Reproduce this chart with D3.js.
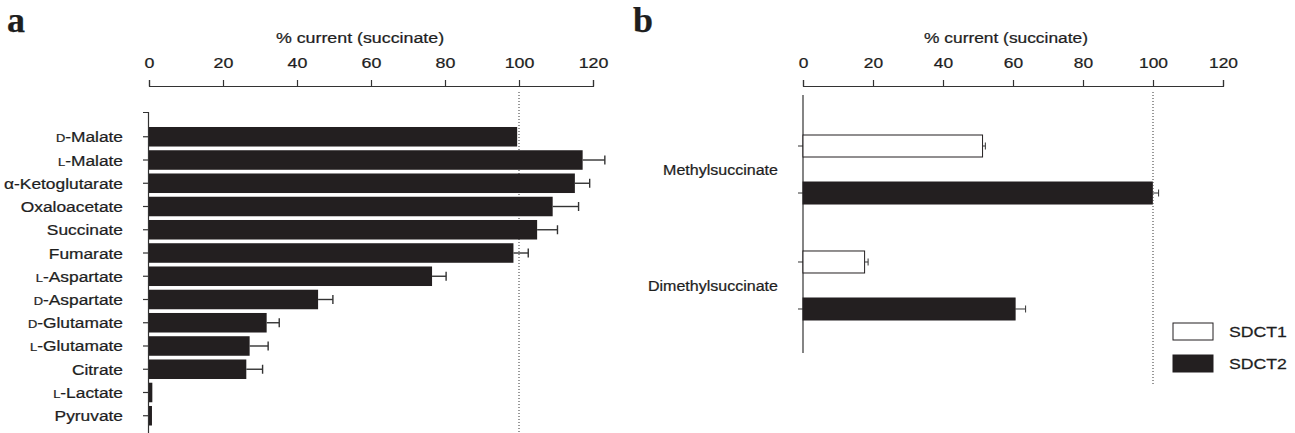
<!DOCTYPE html>
<html>
<head>
<meta charset="utf-8">
<script src="https://cdn.jsdelivr.net/npm/d3@7"></script>
<style>
  body { margin: 0; background: #fff; }
  svg text { font-family: "Liberation Sans", Arial, sans-serif; fill: #1e1e1e; stroke: #1e1e1e; stroke-width: 0.25; }
</style>
</head>
<body>
<svg id="chart" width="1295" height="433"></svg>
<script>
// panel a data
var substrates = ["D-Malate", "L-Malate", "α-Ketoglutarate", "Oxaloacetate", "Succinate", "Fumarate",
                  "L-Aspartate", "D-Aspartate", "D-Glutamate", "L-Glutamate", "Citrate", "L-Lactate", "Pyruvate"];
var currentA = [99.5, 117.2, 115.1, 109.1, 104.9, 98.5, 76.5, 45.7, 31.8, 27.2, 26.3, 0.9, 0.8];
var errorA   = [0, 6.0, 4.0, 7.0, 5.5, 4.0, 3.8, 4.0, 3.4, 5.0, 4.4, 0, 0];

// panel b data
var analogs = ["Methylsuccinate", "Dimethylsuccinate"];
var transporters = ["SDCT1", "SDCT2"];
var sdct1 = [51.3, 17.6];
var sdct1Err = [0.8, 1.0];
var sdct2 = [99.8, 60.6];
var sdct2Err = [1.8, 3.0];

var xTicks = [0, 20, 40, 60, 80, 100, 120];

var svg = d3.select("#chart");
var ink = "#231f20", axisCol = "#333";
var FS = 15.5;
var SXA = 1.15, SXB = 1.12; // the scanned figure is stretched sideways

// small caps for D- / L- prefixes
function writeLabel(sel, s) {
  var m = /^([DL])-(.*)$/.exec(s);
  if (m) {
    sel.append("tspan").style("font-size", "11.5px").text(m[1]);
    sel.append("tspan").text("-" + m[2]);
  } else sel.text(s);
}

function topAxis(g, x, sx) {
  g.call(d3.axisTop(x).tickValues(xTicks).tickSize(6).tickSizeOuter(6).tickPadding(12));
  g.select(".domain").attr("stroke", axisCol).attr("stroke-width", 1.2);
  g.selectAll(".tick line").attr("stroke", axisCol).attr("stroke-width", 1.2);
  g.selectAll(".tick text").attr("font-size", FS).attr("fill", "#1e1e1e")
    .attr("transform", "scale(" + sx + ",1)").attr("x", 0);
}

// ---------- panel a ----------
var xa = d3.scaleLinear().domain([0, 120]).range([149, 593]);
var ya = d3.scaleBand().domain(substrates).range([112, 440.5]).paddingInner(0.16).paddingOuter(0.645);

svg.append("text").attr("x", 7).attr("y", 32).style("font-family", "'Liberation Serif', serif")
  .attr("font-weight", "bold").attr("font-size", 36).text("a");

svg.append("text").attr("font-size", FS).attr("text-anchor", "middle")
  .attr("transform", "translate(360,43) scale(" + SXA + ",1)").text("% current (succinate)");

topAxis(svg.append("g").attr("transform", "translate(0,86)"), xa, SXA);

var ga = svg.append("g").attr("transform", "translate(148,0)")
  .call(d3.axisLeft(ya).tickSize(5).tickSizeOuter(5).tickPadding(0).tickFormat(""));
ga.select(".domain").attr("stroke", axisCol).attr("stroke-width", 1.2);
ga.selectAll(".tick line").attr("stroke", axisCol).attr("stroke-width", 1.2);

svg.append("g").selectAll("text").data(substrates).join("text")
  .attr("font-size", FS).attr("text-anchor", "end")
  .attr("transform", function (d) { return "translate(123," + (ya(d) + ya.bandwidth() / 2 + 5.5) + ") scale(1.12,1)"; })
  .each(function (d) { writeLabel(d3.select(this), d); });

svg.append("line").attr("x1", xa(100)).attr("x2", xa(100)).attr("y1", 92).attr("y2", 433)
  .attr("stroke", "#333").attr("stroke-dasharray", "1,2");

svg.append("g").selectAll("rect").data(substrates).join("rect")
  .attr("x", xa(0)).attr("y", function (d) { return ya(d); })
  .attr("width", function (d, i) { return xa(currentA[i]) - xa(0); })
  .attr("height", ya.bandwidth()).attr("fill", ink);

var errA = svg.append("g").attr("stroke", "#333").attr("stroke-width", 1.4);
substrates.forEach(function (d, i) {
  if (!errorA[i]) return;
  var cy = ya(d) + ya.bandwidth() / 2;
  errA.append("line").attr("x1", xa(currentA[i])).attr("x2", xa(currentA[i] + errorA[i])).attr("y1", cy).attr("y2", cy);
  errA.append("line").attr("x1", xa(currentA[i] + errorA[i])).attr("x2", xa(currentA[i] + errorA[i])).attr("y1", cy - 4.5).attr("y2", cy + 4.5);
});

// ---------- panel b ----------
var xb = d3.scaleLinear().domain([0, 120]).range([803, 1223]);
var yb = d3.scaleBand().domain(analogs).range([135, 320]).paddingInner(0.405).paddingOuter(0);
var yin = d3.scaleBand().domain(transporters).range([0, yb.bandwidth()]).paddingInner(0.532);

svg.append("text").attr("x", 633).attr("y", 32).style("font-family", "'Liberation Serif', serif")
  .attr("font-weight", "bold").attr("font-size", 36).text("b");

svg.append("text").attr("font-size", FS).attr("text-anchor", "middle")
  .attr("transform", "translate(1006,43) scale(" + SXB + ",1)").text("% current (succinate)");

topAxis(svg.append("g").attr("transform", "translate(0,86)"), xb, SXB);

svg.append("line").attr("x1", xb(0)).attr("x2", xb(0)).attr("y1", 95).attr("y2", 353)
  .attr("stroke", axisCol).attr("stroke-width", 1.2);

var series = [
  { key: "SDCT1", vals: sdct1, errs: sdct1Err, fill: "#fff" },
  { key: "SDCT2", vals: sdct2, errs: sdct2Err, fill: ink }
];

var gb = svg.append("g");
series.forEach(function (s) {
  analogs.forEach(function (a, i) {
    var y0 = yb(a) + yin(s.key), cy = y0 + yin.bandwidth() / 2;
    gb.append("line").attr("x1", xb(0) - 5).attr("x2", xb(0)).attr("y1", cy).attr("y2", cy).attr("stroke", axisCol);
    gb.append("rect").attr("x", xb(0)).attr("y", y0).attr("width", xb(s.vals[i]) - xb(0))
      .attr("height", yin.bandwidth()).attr("fill", s.fill).attr("stroke", ink).attr("stroke-width", 1);
    var xe = xb(s.vals[i] + s.errs[i]);
    gb.append("line").attr("x1", xb(s.vals[i])).attr("x2", xe).attr("y1", cy).attr("y2", cy).attr("stroke", "#333");
    gb.append("line").attr("x1", xe).attr("x2", xe).attr("y1", cy - 3.5).attr("y2", cy + 3.5).attr("stroke", "#333");
  });
});

svg.append("g").selectAll("text").data(analogs).join("text")
  .attr("font-size", FS).attr("text-anchor", "end")
  .attr("transform", function (d) { return "translate(778," + (yb(d) + yb.bandwidth() / 2 + 5.5) + ") scale(1.035,1)"; })
  .text(function (d) { return d; });

svg.append("line").attr("x1", xb(100)).attr("x2", xb(100)).attr("y1", 92).attr("y2", 385)
  .attr("stroke", "#333").attr("stroke-dasharray", "1,2");

// legend
var leg = svg.append("g").selectAll("g").data(series).join("g")
  .attr("transform", function (d, i) { return "translate(1173," + (323 + i * 32) + ")"; });
leg.append("rect").attr("width", 40).attr("height", 17).attr("fill", function (d) { return d.fill; })
  .attr("stroke", ink);
leg.append("text").attr("font-size", FS).attr("transform", "translate(56,14) scale(1.14,1)")
  .text(function (d) { return d.key; });
</script>
</body>
</html>
